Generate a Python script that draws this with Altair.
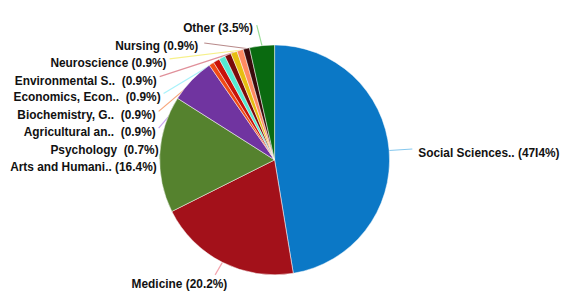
import math
import altair as alt
import pandas as pd

# ---- data ----
categories = ["Social Sciences", "Medicine", "Arts and Humanities", "Unlabeled",
              "Psychology", "Agricultural", "Biochemistry", "Economics",
              "Environmental", "Neuroscience", "Nursing", "Other"]
values = [47.4, 20.2, 16.4, 6.4, 0.7, 0.9, 0.9, 0.9, 0.9, 0.9, 0.9, 3.5]
NB = "\u00a0"
labels = ["Social Sciences.. (47I4%)", "Medicine (20.2%)", "Arts and Humani.. (16.4%)", "",
          "Psychology " + NB + "(0.7%)", "Agricultural an.. " + NB + "(0.9%)",
          "Biochemistry, G.. " + NB + "(0.9%)", "Economics, Econ.. " + NB + "(0.9%)",
          "Environmental S.. " + NB + "(0.9%)", "Neuroscience (0.9%)",
          "Nursing (0.9%)", "Other (3.5%)"]

# ---- styles / layout ----
slice_colors = ["#0B78C6", "#A3111A", "#55822E", "#7034A0",
                "#F04A14", "#C81208", "#55EAD2", "#7A0A0A",
                "#E6BE10", "#FF8A62", "#3A0A0C", "#0A6A10"]
line_colors = ["#86C8EE", "#F4A4AE", "#B6D89C", "#FFFFFF",
               "#CBB2F0", "#C8A4F0", "#F8A478", "#A8F2FA",
               "#E0909A", "#F6F08A", "#B88A8A", "#9ADE98"]
# label anchor (page px): text x, text y, alignment, line end x, line end y
lab_x = [422, 181, 158, 0, 160, 157, 157, 162, 158, 168, 200, 220]
lab_y = [153, 285, 167, 0, 150, 132, 115, 97, 80, 62, 45, 27]
lab_align = ["left", "center", "right", "none", "right", "right", "right", "right",
             "right", "right", "right", "center"]
end_x = [416, 217, 161, 0, 163, 160, 160, 165, 161, 171, 206, 259]
end_y = [149, 276, 159, 0, 146, 128, 111, 93, 76, 58, 42, 24]

W, H = 552, 277
M = 8
cx, cy, R = 277 - M, 160 - M, 116

total = sum(values)
rows = []
cum = 0.0
for i, (c, v) in enumerate(zip(categories, values)):
    mid = (cum + v / 2) / total * 2 * math.pi
    cum += v
    rows.append(dict(idx=i, cat=c, value=v, label=labels[i],
                     lc=line_colors[i], align=lab_align[i],
                     tx=lab_x[i] - M, ty=lab_y[i] - M,
                     px=cx + R * math.sin(mid), py=cy - R * math.cos(mid),
                     ex=end_x[i] - M, ey=end_y[i] - M))
df = pd.DataFrame(rows)

xs = alt.Scale(domain=[0, W], range=[0, W], nice=False, zero=False)
ys = alt.Scale(domain=[0, H], range=[0, H], nice=False, zero=False)

base = alt.Chart(df)

pie = base.mark_arc(outerRadius=R, stroke="#ffffff", strokeWidth=0.5).encode(
    theta=alt.Theta("value:Q", stack=True),
    color=alt.Color("cat:N", scale=alt.Scale(domain=categories, range=slice_colors), legend=None),
    order=alt.Order("idx:Q"),
    x=alt.value(cx),
    y=alt.value(cy),
)

lined = df[df["label"] != ""]
rules = alt.Chart(lined).mark_rule(strokeWidth=1.2).encode(
    x=alt.X("px:Q", scale=xs, axis=None),
    y=alt.Y("py:Q", scale=ys, axis=None),
    x2="ex:Q",
    y2="ey:Q",
    color=alt.Color("lc:N", scale=None),
)

def text_layer(al):
    return alt.Chart(df[df["align"] == al]).mark_text(
        align=al, baseline="middle", font="Liberation Sans", fontSize=12,
        fontWeight="bold", color="#111111"
    ).encode(
        x=alt.X("tx:Q", scale=xs, axis=None),
        y=alt.Y("ty:Q", scale=ys, axis=None),
        text="label:N",
    )

chart = alt.layer(rules, pie, text_layer("left"), text_layer("right"), text_layer("center")).properties(
    width=W, height=H, padding=0
).configure(background="#ffffff", view=alt.ViewConfig(stroke=None))

chart.save("out.html", embed_options={"renderer": "svg", "actions": False})
